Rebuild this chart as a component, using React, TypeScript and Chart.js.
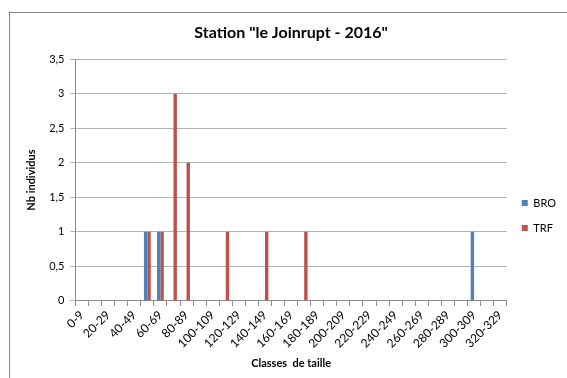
import React, { useEffect, useRef } from "react";
import { Chart, registerables } from "chart.js";

Chart.register(...registerables);

const categories = [
  "0-9", "10-19", "20-29", "30-39", "40-49", "50-59", "60-69", "70-79", "80-89", "90-99",
  "100-109", "110-119", "120-129", "130-139", "140-149", "150-159", "160-169", "170-179",
  "180-189", "190-199", "200-209", "210-219", "220-229", "230-239", "240-249", "250-259",
  "260-269", "270-279", "280-289", "290-299", "300-309", "310-319", "320-329",
];
const broValues = [0, 0, 0, 0, 0, 1, 1, 0, 0, 0, 0, 0, 0, 0, 0, 0, 0, 0, 0, 0, 0, 0, 0, 0, 0, 0, 0, 0, 0, 0, 1, 0, 0];
const trfValues = [0, 0, 0, 0, 0, 1, 1, 3, 2, 0, 0, 1, 0, 0, 1, 0, 0, 1, 0, 0, 0, 0, 0, 0, 0, 0, 0, 0, 0, 0, 0, 0, 0];
const yTicks = [0, 0.5, 1, 1.5, 2, 2.5, 3, 3.5];

const FONT = "Lato, 'Open Sans', sans-serif";

const legendShift = {
  id: "legendShift",
  afterLayout(chart: any) {
    const lg = chart.legend;
    if (!lg) return;
    lg.left += 1;
    lg.right += 1;
    lg.top += 19;
    lg.bottom += 19;
  },
};

export default function App() {
  const ref = useRef<HTMLCanvasElement | null>(null);
  useEffect(() => {
    if (!ref.current) return;
    const chart = new Chart(ref.current, {
      type: "bar",
      data: {
        labels: categories,
        datasets: [
          { label: "BRO", data: broValues, backgroundColor: "#4F81BD", categoryPercentage: 0.52, barPercentage: 1 },
          { label: "TRF", data: trfValues, backgroundColor: "#C0504D", categoryPercentage: 0.52, barPercentage: 1 },
        ],
      },
      plugins: [legendShift],
      options: {
        animation: false,
        responsive: false,
        layout: { padding: { left: 25, right: 2, top: 23, bottom: 8 } },
        plugins: {
          title: {
            display: true,
            text: 'Station "le Joinrupt - 2016"',
            fullSize: false,
            color: "#000",
            font: { family: FONT, size: 16, weight: "bold" },
            padding: { top: 0, bottom: 17 },
          },
          legend: {
            position: "right",
            labels: {
              boxWidth: 6,
              boxHeight: 6,
              padding: 14,
              color: "#000",
              font: { family: FONT, size: 11 },
            },
          },
          tooltip: { enabled: false },
        },
        scales: {
          x: {
            grid: {
              display: true,
              drawOnChartArea: false,
              drawTicks: true,
              tickLength: 5,
              color: "#8c8c8c",
              offset: true,
            },
            border: { display: true, color: "#8c8c8c" },
            ticks: {
              autoSkip: false,
              minRotation: 45,
              maxRotation: 45,
              color: "#000",
              font: { family: FONT, size: 12 },
              padding: 2,
              callback: (_v: any, i: number) => (i % 2 === 0 ? categories[i] : ""),
            },
            title: {
              display: true,
              text: "Classes  de taille",
              color: "#000",
              font: { family: FONT, size: 11, weight: "bold" },
              padding: { top: 4, bottom: 0 },
            },
          },
          y: {
            min: 0,
            max: 3.5,
            afterBuildTicks: (axis: any) => {
              axis.ticks = yTicks.map((v) => ({ value: v }));
            },
            grid: {
              color: "#b3b3b3",
              tickLength: 5,
              drawTicks: true,
            },
            border: { display: true, color: "#8c8c8c" },
            ticks: {
              color: "#000",
              font: { family: FONT, size: 11 },
              padding: 6,
              callback: (v: any) => String(v).replace(".", ","),
            },
            title: {
              display: true,
              text: "Nb individus",
              color: "#000",
              font: { family: FONT, size: 11, weight: "bold" },
              padding: { top: 0, bottom: 5 },
            },
          },
        },
      },
    });
    return () => chart.destroy();
  }, []);
  return (
    <div style={{ position: "absolute", left: 0, top: 0, width: 567, height: 378, background: "#fff", overflow: "hidden" }}>
      <div
        style={{
          position: "absolute",
          left: 9,
          top: 12,
          width: 700,
          height: 500,
          borderLeft: "1px solid #868686",
          borderTop: "1px solid #868686",
        }}
      />
      <canvas ref={ref} width={567} height={378} style={{ position: "absolute", left: 0, top: 0 }} />
    </div>
  );
}
